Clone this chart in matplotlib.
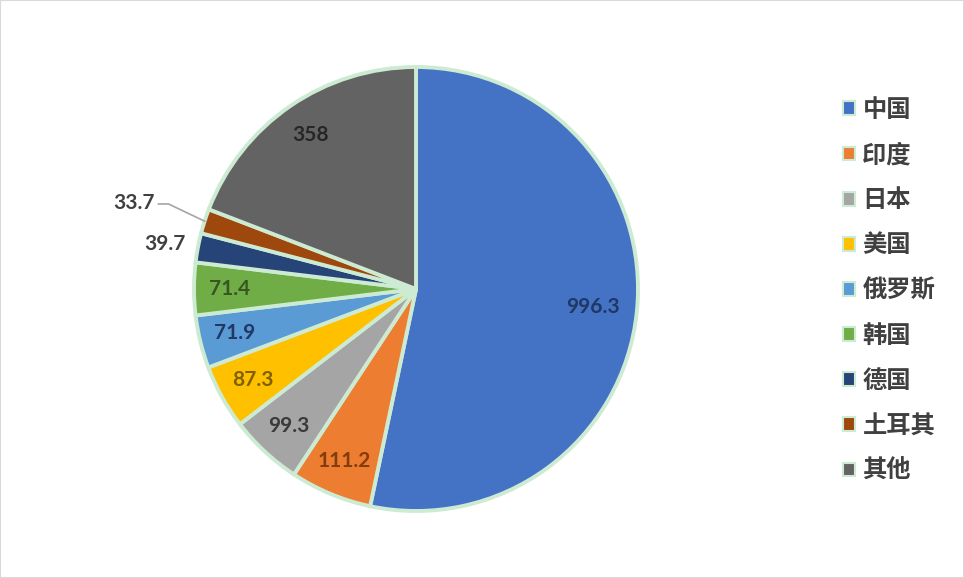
import numpy as np
import matplotlib

matplotlib.use("Agg")
import matplotlib.pyplot as plt
from matplotlib.patches import Rectangle

plt.rcParams["font.family"] = ["Noto Sans CJK SC", "DejaVu Sans"]

countries = ["中国", "印度", "日本", "美国", "俄罗斯", "韩国", "德国", "土耳其", "其他"]
values = [996.3, 111.2, 99.3, 87.3, 71.9, 71.4, 39.7, 33.7, 358]
value_labels = ["996.3", "111.2", "99.3", "87.3", "71.9", "71.4", "39.7", "33.7", "358"]

COLORS = ["#4472C4", "#ED7D31", "#A5A5A5", "#FFC000", "#5B9BD5",
          "#70AD47", "#264478", "#9E480E", "#636363"]
TEXT_COLORS = ["#1F3864", "#843C0C", "#3A3A3A", "#7F6000", "#1F3864",
               "#375623", "#404040", "#404040", "#262626"]
EDGE = "#CDEBD3"

fig = plt.figure(figsize=(9.64, 5.78), dpi=100)
ax = fig.add_axes([194 / 964, (578 - 289 - 222) / 578, 444 / 964, 444 / 578])

wedges, _ = ax.pie(values, startangle=90, counterclock=False, colors=COLORS,
                   wedgeprops=dict(edgecolor=EDGE, linewidth=2.8))
ax.set_xlim(-1, 1)
ax.set_ylim(-1, 1)

label_font = dict(family=["Lato", "DejaVu Sans"], fontsize=15, fontweight="bold")
for i, w in enumerate(wedges):
    mid = np.deg2rad((w.theta1 + w.theta2) / 2)
    if i == 6:
        r = 1.15
        ax.text(r * np.cos(mid), r * np.sin(mid) - 0.01, value_labels[i], ha="center",
                va="center", color=TEXT_COLORS[i], **label_font)
    elif i == 7:
        ex, ey = 1.0 * np.cos(mid), 1.0 * np.sin(mid)
        tx, ty = -1.16, 0.383
        ax.plot([ex, tx + 0.045, tx], [ey, ty, ty], color="#A5A5A5", lw=1.2,
                clip_on=False)
        ax.text(tx - 0.015, ty + 0.005, value_labels[i], ha="right", va="center",
                color=TEXT_COLORS[i], **label_font)
    else:
        r = 0.84 if i != 0 else 0.8
        ax.text(r * np.cos(mid), r * np.sin(mid), value_labels[i], ha="center",
                va="center", color=TEXT_COLORS[i], **label_font)

leg = fig.legend(wedges, countries, loc="upper left", bbox_to_anchor=(843 / 964, 1 - 98 / 578),
                 frameon=False, prop=dict(size=17.5, weight="bold"),
                 handlelength=0.5, handleheight=0.5,
                 handletextpad=0.3, labelspacing=0.87, borderpad=0, borderaxespad=0)
for t in leg.get_texts():
    t.set_color("#404040")
for h in leg.legend_handles:
    h.set_linewidth(1.5)

fig.add_artist(Rectangle((0, 0), 1, 1, transform=fig.transFigure, fill=False,
                         edgecolor="#D9D9D9", linewidth=1.5))

fig.savefig("out.png", dpi=100)
